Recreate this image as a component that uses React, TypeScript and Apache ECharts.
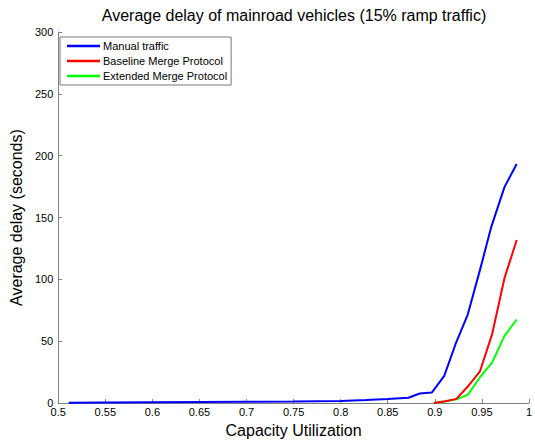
import React, { useEffect, useRef } from "react";
import * as echarts from "echarts";

// Capacity utilization samples and average delay (seconds) per scenario
const manualX = [0.511, 0.55, 0.6, 0.65, 0.7, 0.75, 0.8, 0.827, 0.85, 0.872, 0.884, 0.897, 0.91, 0.922, 0.935, 0.948, 0.96, 0.974, 0.987];
const manualY = [0.3, 0.5, 0.7, 0.9, 1.1, 1.3, 1.7, 2.5, 3.3, 4.3, 7.8, 8.6, 22, 47.6, 71.6, 107.7, 142.5, 174.6, 193.3];

const baselineX = [0.899, 0.911, 0.923, 0.935, 0.948, 0.961, 0.974, 0.987];
const baselineY = [0, 1.5, 3.4, 13.4, 25.7, 56, 101, 131.8];

const extendedX = [0.899, 0.911, 0.923, 0.935, 0.948, 0.961, 0.974, 0.987];
const extendedY = [0, 1.3, 3, 6.7, 20.9, 32.9, 54.3, 67.6];

const seriesNames = ["Manual traffic", "Baseline Merge Protocol", "Extended Merge Protocol"];
const seriesColors = ["#0000ff", "#ff0000", "#00ff00"];

const FONT = "Liberation Sans, Arial, sans-serif";

const pairs = (xs: number[], ys: number[]) => xs.map((x, i) => [x, ys[i]]);

export default function App() {
  const ref = useRef<HTMLDivElement>(null);

  useEffect(() => {
    if (!ref.current) return;
    const chart = echarts.init(ref.current, null, { renderer: "svg" });
    const axisGray = "#808080";
    const data = [pairs(manualX, manualY), pairs(baselineX, baselineY), pairs(extendedX, extendedY)];
    chart.setOption({
      animation: false,
      backgroundColor: "#ffffff",
      title: {
        text: "Average delay of mainroad vehicles (15% ramp traffic)",
        left: 294,
        top: 7,
        padding: 0,
        textAlign: "center",
        textStyle: { fontFamily: FONT, fontSize: 16, fontWeight: "normal", color: "#000" },
      },
      legend: {
        orient: "vertical",
        left: 60,
        top: 37,
        padding: [2, 4, 2, 7],
        itemGap: 1,
        itemWidth: 33,
        itemHeight: 2.5,
        icon: "rect",
        backgroundColor: "#ffffff",
        borderColor: "#777777",
        borderWidth: 1,
        borderRadius: 0,
        data: seriesNames,
        textStyle: { fontFamily: FONT, fontSize: 11, color: "#000", lineHeight: 14, padding: [0, 0, 0, -2] },
      },
      grid: { left: 57, right: 4, top: 32, bottom: 37, containLabel: false },
      xAxis: {
        type: "value",
        min: 0.5,
        max: 1,
        interval: 0.05,
        name: "Capacity Utilization",
        nameLocation: "middle",
        nameGap: 18,
        nameTextStyle: { fontFamily: FONT, fontSize: 16, color: "#000", verticalAlign: "top" },
        axisLine: { show: true, lineStyle: { color: axisGray, width: 1 } },
        axisTick: { show: true, inside: true, length: 4, lineStyle: { color: axisGray } },
        axisLabel: {
          fontFamily: FONT,
          fontSize: 11,
          color: "#000",
          margin: 3,
          formatter: (v: number) => String(Math.round(v * 100) / 100),
        },
        splitLine: { show: false },
      },
      yAxis: {
        type: "value",
        min: 0,
        max: 300,
        interval: 50,
        name: "Average delay (seconds)",
        nameLocation: "middle",
        nameGap: 28,
        nameTextStyle: { fontFamily: FONT, fontSize: 16, color: "#000" },
        axisLine: { show: true, lineStyle: { color: axisGray, width: 1 } },
        axisTick: { show: true, inside: true, length: 4, lineStyle: { color: axisGray } },
        axisLabel: { fontFamily: FONT, fontSize: 11, color: "#000", margin: 5 },
        splitLine: { show: false },
      },
      series: seriesNames.map((name, i) => ({
        name,
        type: "line",
        data: data[i],
        showSymbol: false,
        symbol: "none",
        color: seriesColors[i],
        lineStyle: { color: seriesColors[i], width: 2 },
        z: 3 - i,
      })),
    });
    return () => chart.dispose();
  }, []);

  return <div ref={ref} style={{ width: 535, height: 443, position: "absolute", left: 0, top: 0 }} />;
}
